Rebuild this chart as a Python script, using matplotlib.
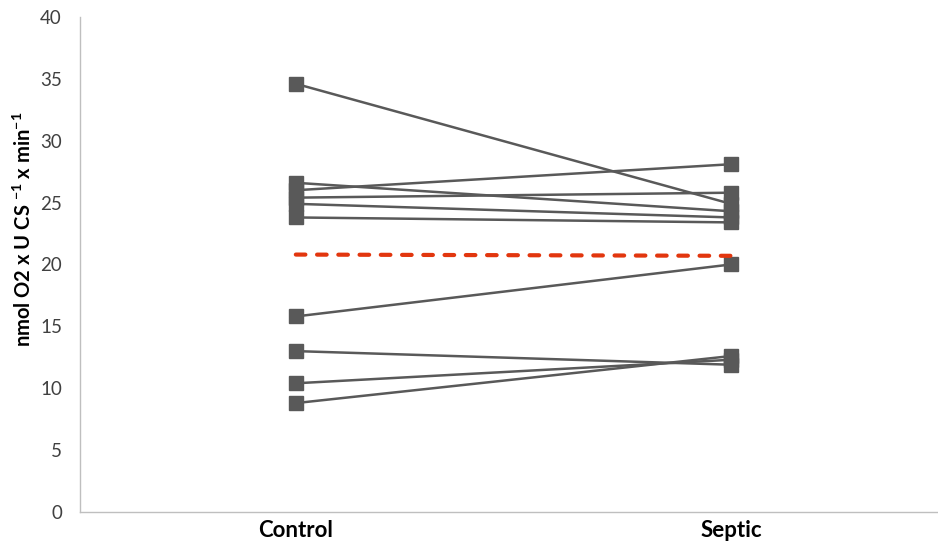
import matplotlib
matplotlib.use('Agg')
import matplotlib.pyplot as plt

plt.rcParams['font.family'] = ['Lato', 'DejaVu Sans']
plt.rcParams['mathtext.fontset'] = 'custom'
plt.rcParams['mathtext.rm'] = 'Lato'
plt.rcParams['mathtext.bf'] = 'Lato:bold'

groups = ['Control', 'Septic']

# paired values, one per subject
control = [34.6, 26.6, 26.0, 25.4, 24.9, 23.8, 15.8, 13.0, 10.4, 8.8]
septic = [24.9, 24.3, 28.1, 25.8, 23.8, 23.4, 20.0, 11.9, 12.3, 12.6]

# group means
mean_vals = [20.8, 20.7]

yticks = [0, 5, 10, 15, 20, 25, 30, 35, 40]

fig = plt.figure(figsize=(9.38, 5.47), dpi=100)
ax = fig.add_axes([0.0853, 0.064, 0.9147, 0.905])

x = [0, 1]
for c, s in zip(control, septic):
    ax.plot(x, [c, s], color='#595959', lw=1.8, marker='s', ms=9.5,
            mec='#595959', mfc='#595959', zorder=3)

ax.plot(x, mean_vals, color='#e2360e', lw=3, dashes=(2.3, 2.8),
        dash_capstyle='round', zorder=4)

ax.set_xlim(-0.496, 1.476)
ax.set_ylim(0, 40)
ax.set_yticks(yticks)
ax.set_xticks(x)
ax.set_xticklabels(groups, fontsize=16, fontweight='bold')
ax.tick_params(axis='y', length=0, pad=13, labelsize=13.5, labelcolor='#404040')
ax.tick_params(axis='x', length=0, pad=6)

for side in ['top', 'right']:
    ax.spines[side].set_visible(False)
for side in ['left', 'bottom']:
    ax.spines[side].set_color('#bfbfbf')
    ax.spines[side].set_linewidth(1)

fig.text(0.026, 0.581, r'nmol O2 x U CS $^{\mathbf{-1}}$ x min$^{\mathbf{-1}}$',
         rotation=90, ha='center', va='center', fontsize=14.5, fontweight='bold')

fig.savefig('out.png', dpi=100)
plt.close()
